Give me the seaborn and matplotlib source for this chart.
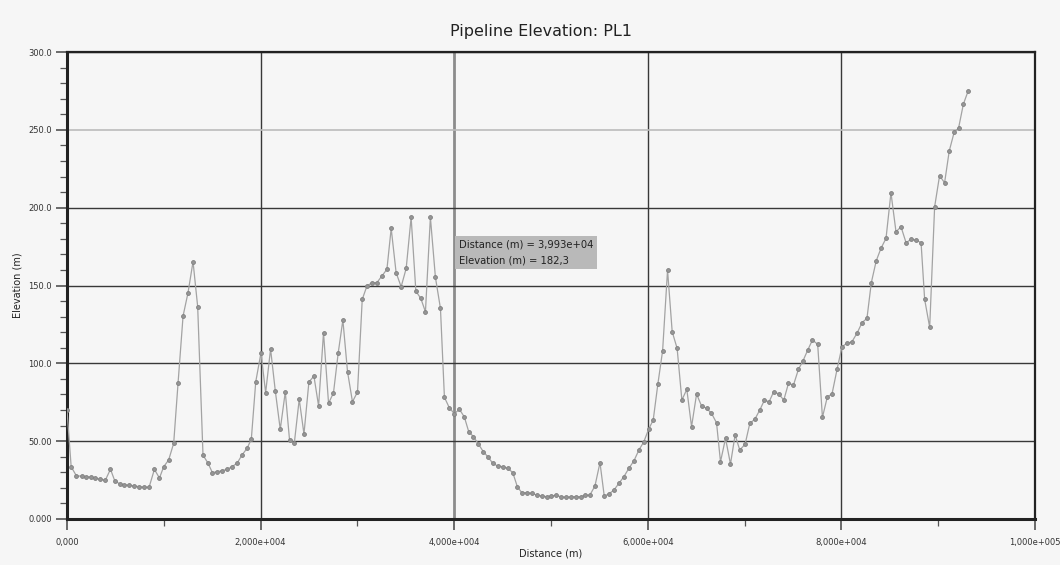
import matplotlib
matplotlib.use("Agg")
import matplotlib.pyplot as plt
import seaborn as sns
import pandas as pd
from matplotlib.ticker import MultipleLocator, FixedLocator

distance_m = [
    0, 430, 980, 1570, 2010, 2500, 2940, 3390, 3970, 4490, 4930, 5450, 5930, 6450,
    6960, 7450, 7930, 8480, 9030, 9550, 9990, 10500, 11020, 11470, 11990, 12500,
    13020, 13500, 14050, 14570, 15020, 15500, 16020, 16530, 17050, 17570, 18080,
    18600, 19040, 19500, 20040, 20520, 21030, 21520, 22030, 22550, 22990, 23480,
    23990, 24480, 24990, 25510, 25990, 26500, 27020, 27530, 28020, 28500, 28980,
    29490, 30010, 30500, 30980, 31500, 32010, 32530, 33050, 33490, 34000, 34520,
    35040, 35550, 36040, 36550, 37030, 37540, 38060, 38580, 38990, 39500, 40020,
    40540, 41050, 41500, 41990, 42500, 43010, 43530, 43980, 44500, 45010, 45530,
    46050, 46520, 46980, 47490, 48010, 48520, 49040, 49550, 50030, 50510, 51030,
    51550, 52060, 52580, 53060, 53540, 54020, 54540, 55060, 55500, 55990, 56500,
    57020, 57530, 58050, 58570, 59080, 59590, 60080, 60560, 61040, 61530, 62040,
    62520, 63030, 63520, 64030, 64520, 65040, 65550, 66070, 66580, 67100, 67510,
    68030, 68540, 69020, 69500, 70050, 70540, 71050, 71570, 72050, 72530, 73010,
    73530, 74050, 74530, 75050, 75560, 76040, 76520, 77010, 77550, 78040, 78550,
    79030, 79550, 80060, 80570, 81090, 81610, 82130, 82640, 83090, 83600, 84090,
    84610, 85120, 85640, 86160, 86680, 87190, 87710, 88230, 88600, 89120, 89630,
    90140, 90660, 91140, 91660, 92100, 92600, 93100,
]

elevation_m = [
    70, 33.6, 27.6, 27.6, 27, 27, 26.3, 25.5, 25, 32, 24.6, 22.5, 22, 21.6,
    21.2, 20.8, 20.4, 20.4, 31.9, 26.3, 33.6, 37.9, 48.6, 87.1, 130.4, 145.3,
    165.3, 136.4, 41.1, 35.8, 29.8, 30.4, 31, 31.9, 33.6, 35.8, 41.1,
    45.4, 51.2, 88.2, 106.8, 81.1, 109.2, 82.2, 57.6, 81.6, 50.7, 48.6,
    76.9, 54.6, 88, 91.8, 72.6, 119.7, 74.3, 81.1, 106.8, 127.8, 94.6,
    75.3, 81.6, 141.1, 149.6, 151.8, 151.8, 156.1, 160.4, 186.7, 158.2, 149.2,
    161, 193.8, 146.4, 141.7, 133.1, 193.8, 155.2, 135.3, 78.2, 71.4, 67.6,
    70.5, 65.5, 56.1, 52.9, 48.2, 43.2, 39.6, 35.8, 34, 33.6, 32.6,
    29.8, 20.8, 16.9, 16.9, 16.5, 15.4, 14.8, 14.3, 14.8, 15.2, 14.3,
    13.9, 14.3, 14.3, 14.3, 15.2, 15.4, 21.2, 36.2, 14.8, 16.1, 18.6,
    22.9, 27.2, 32.6, 37.4, 44.3, 49.6, 57.6, 63.6, 86.7, 108.1, 159.9,
    120.3, 109.6, 76.4, 83.3, 59.3, 80.3, 72.6, 71.1, 67.9, 61.8, 36.8,
    51.8, 35.3, 54, 44.3, 48, 61.5, 64, 70, 76.4, 75.3, 81.8,
    80.3, 76.4, 87.1, 86.1, 96.1, 101.7, 108.5, 115, 112.2, 65.3, 78.5,
    80.3, 96.1, 110.7, 112.8, 113.9, 119.3, 126.1, 128.9, 151.8, 165.9, 173.9,
    180.3, 209.6, 184.5, 187.7, 177.5, 179.6, 179.2, 177.5, 141.1, 123.1, 200.5,
    220.5, 216, 236.4, 248.7, 251, 266.5, 275.1,
]

x_ticks = [0, 20000, 40000, 60000, 80000, 100000]
x_tick_labels = ["0,000", "2,000e+004", "4,000e+004", "6,000e+004", "8,000e+004", "1,000e+005"]
y_ticks = [0, 50, 100, 150, 200, 250, 300]
y_tick_labels = ["0.000", "50.00", "100.0", "150.0", "200.0", "250.0", "300.0"]

title_text = "Pipeline Elevation: PL1"
x_label = "Distance (m)"
y_label = "Elevation (m)"
tooltip_lines = ["Distance (m) = 3,993e+04", "Elevation (m) = 182,3"]
tooltip_pos = (40500, 179.5)

df = pd.DataFrame({"Distance (m)": distance_m, "Elevation (m)": elevation_m})

sns.set_style("white")
plt.rcParams["font.family"] = ["DejaVu Sans"]

bg = "#f6f6f6"
fig = plt.figure(figsize=(10.6, 5.65), dpi=100, facecolor=bg)
ax = fig.add_axes([67 / 1060, 46 / 565, 968 / 1060, 467 / 565])
ax.set_facecolor(bg)

sns.lineplot(
    data=df, x="Distance (m)", y="Elevation (m)", ax=ax,
    color="#a3a3a3", linewidth=0.9, marker="o", markersize=2.8,
    markerfacecolor="#959595", markeredgecolor="#808080", markeredgewidth=0.6,
    estimator=None, sort=False, zorder=3,
)

ax.set_xlim(0, 100000)
ax.set_ylim(0, 300)

ax.xaxis.set_major_locator(FixedLocator(x_ticks))
ax.set_xticklabels(x_tick_labels)
ax.xaxis.set_minor_locator(MultipleLocator(10000))
ax.yaxis.set_major_locator(FixedLocator(y_ticks))
ax.set_yticklabels(y_tick_labels)
ax.yaxis.set_minor_locator(MultipleLocator(10))

ax.tick_params(axis="both", which="major", direction="out", length=8, width=1.1,
               color="#444444", labelsize=6, labelcolor="#333333")
ax.tick_params(axis="x", which="major", pad=6)
ax.tick_params(axis="y", which="major", pad=3)
ax.tick_params(axis="both", which="minor", direction="out", length=5, width=0.9,
               color="#555555")
ax.tick_params(bottom=True, left=True, which="both")

ax.grid(True, which="major", color="#383838", linewidth=1.0, zorder=1)
for val, gl in zip(y_ticks, ax.get_ygridlines()):
    if val == 250:
        gl.set_color("#bcbcbc")
        gl.set_linewidth(1.2)
for val, gl in zip(x_ticks, ax.get_xgridlines()):
    if val == 40000:
        gl.set_color("#8c8c8c")
        gl.set_linewidth(2.0)
ax.set_axisbelow(True)

for name, sp in ax.spines.items():
    sp.set_visible(True)
    sp.set_color("#222222")
    sp.set_linewidth(1.6)
ax.spines["left"].set_linewidth(2.2)
ax.spines["bottom"].set_linewidth(2.2)

ax.set_xlabel(x_label, fontsize=7, color="#222222", labelpad=1)
ax.set_ylabel(y_label, fontsize=7, color="#222222", labelpad=4)

fig.text(0.51, 0.945, title_text, ha="center", va="center", fontsize=11.5, color="#222222")

ax.text(tooltip_pos[0], tooltip_pos[1], "\n".join(tooltip_lines), fontsize=7.2,
        color="#222222", va="top", ha="left", linespacing=1.7, zorder=5,
        bbox=dict(boxstyle="square,pad=0.4", facecolor="#b9b9b9", edgecolor="none"))

fig.savefig("out.png", dpi=100, facecolor=bg)
